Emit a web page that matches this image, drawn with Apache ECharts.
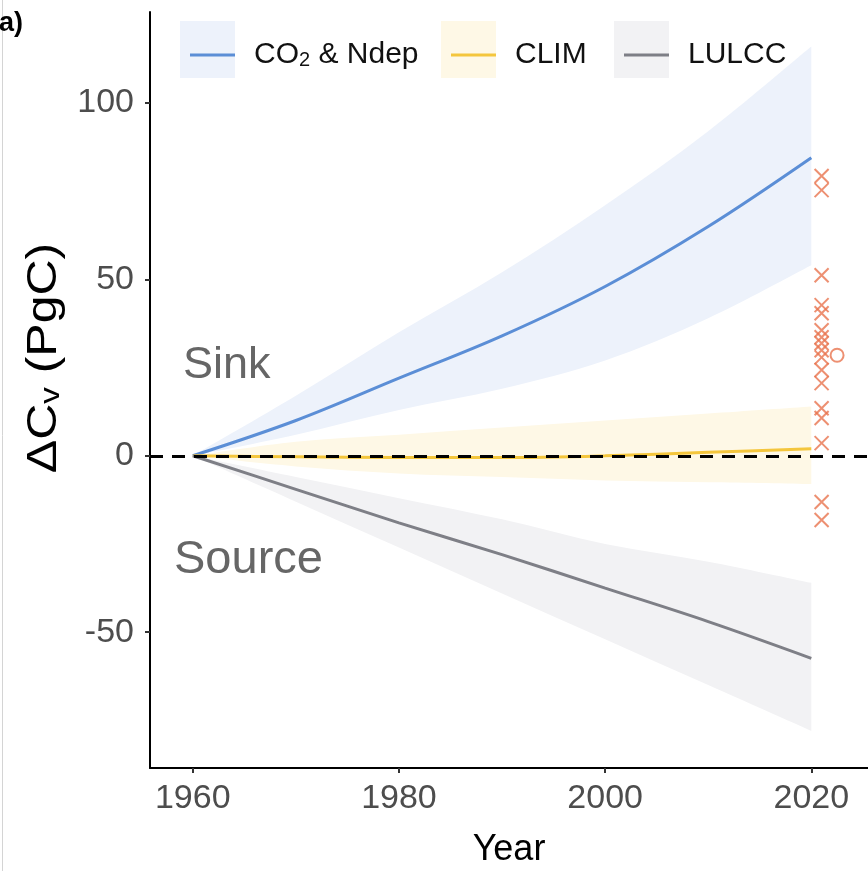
<!DOCTYPE html>
<html>
<head>
<meta charset="utf-8">
<script src="https://cdn.jsdelivr.net/npm/echarts@6/dist/echarts.min.js"></script>
<style>
  html, body { margin: 0; padding: 0; background: #ffffff; }
  #chart { width: 868px; height: 871px; }
</style>
</head>
<body>
<div id="chart"></div>
<script>
// Vegetation carbon change since 1960 by driver (PgC)
const years = [1960, 1970, 1980, 1990, 2000, 2010, 2020];

const co2Mean  = [0, 10, 22, 34, 48, 65, 84.5];
const co2Upper = [0, 17, 35, 52, 71, 92, 116];
const co2Lower = [0, 6, 13, 19, 27, 39, 54];

const climMean  = [0, -0.3, -0.5, -0.5, 0, 1, 2];
const climUpper = [0, 4, 6, 8, 10, 12, 14];
const climLower = [0, -3, -5, -6, -7, -7.5, -8];

const lulccMean  = [0, -9.5, -19, -28, -37.5, -47, -57.4];
const lulccUpper = [0, -6, -12, -18, -25, -30, -36];
const lulccLower = [0, -13, -26, -39, -52, -65, -78];

// independent estimates plotted just after the model period
const obsYear = 2021;
const obsValues = [79.3, 75.3, 51.2, 42.7, 40.4, 35.6, 33.6, 31.9, 29.9, 27.9, 24.3, 20.6, 13.5, 10.7, 3.6, -13.1, -18.2];
const refPoint = [2022.5, 28.5];

const xTicks = [1960, 1980, 2000, 2020];
const yTicks = [-50, 0, 50, 100];

const FONT = "'Liberation Sans', Arial, sans-serif";

const colors = {
  co2: '#5b8ed6', co2Band: '#edf2fb',
  clim: '#f4c63d', climBand: '#fef8e6',
  lulcc: '#7e7f86', lulccBand: '#f2f2f4',
  obs: '#e8744f'
};

const pairs = (ys) => years.map((y, i) => [y, ys[i]]);

// Smooth path (Catmull-Rom converted to cubic Bezier) through screen points
function splineCmds(pts) {
  let d = '';
  for (let i = 0; i < pts.length - 1; i++) {
    const p0 = pts[Math.max(i - 1, 0)];
    const p1 = pts[i];
    const p2 = pts[i + 1];
    const p3 = pts[Math.min(i + 2, pts.length - 1)];
    const c1 = [p1[0] + (p2[0] - p0[0]) / 6, p1[1] + (p2[1] - p0[1]) / 6];
    const c2 = [p2[0] - (p3[0] - p1[0]) / 6, p2[1] - (p3[1] - p1[1]) / 6];
    d += ' C' + c1[0] + ',' + c1[1] + ' ' + c2[0] + ',' + c2[1] + ' ' + p2[0] + ',' + p2[1];
  }
  return d;
}

function band(name, lower, upper, fill) {
  return {
    type: 'custom', name: name, silent: true, z: 1, clip: true,
    data: years.map((y, i) => [y, lower[i], upper[i]]),
    encode: { x: 0, y: [1, 2] },
    renderItem: function (params, api) {
      if (params.dataIndex !== 0) return null;
      const up = years.map((y, i) => api.coord([y, upper[i]]));
      const lo = years.map((y, i) => api.coord([y, lower[i]])).reverse();
      const d = 'M' + up[0][0] + ',' + up[0][1] + splineCmds(up) +
        ' L' + lo[0][0] + ',' + lo[0][1] + splineCmds(lo) + ' Z';
      return { type: 'path', shape: { pathData: d }, style: { fill: fill, stroke: null } };
    }
  };
}

function meanLine(name, values, color) {
  return {
    type: 'line', name: name, data: pairs(values), smooth: 0.35, symbol: 'none',
    itemStyle: { color: color }, lineStyle: { color: color, width: 3 }, z: 3
  };
}

const chart = echarts.init(document.getElementById('chart'), null, { renderer: 'canvas' });

const legendBase = (name, left) => ({
  data: [name], left: left, top: 35, orient: 'horizontal',
  icon: 'rect', itemWidth: 45, itemHeight: 3,
  selectedMode: false,
  formatter: (n) => n === 'CO2 & Ndep' ? '{a|CO}{s|2}{a| & Ndep}' : '{a|' + n + '}',
  textStyle: {
    padding: [0, 0, 0, 14],
    rich: {
      a: { fontFamily: FONT, fontSize: 30, color: '#111', lineHeight: 30 },
      s: { fontFamily: FONT, fontSize: 20, color: '#111', lineHeight: 18, verticalAlign: 'bottom' }
    }
  }
});

const option = {
  backgroundColor: '#ffffff',
  animation: false,
  grid: { left: 150, right: 0, top: 12, bottom: 103, containLabel: false, outerBoundsMode: 'none' },
  xAxis: {
    type: 'value', min: 1955.85, max: 2025.5,
    axisLine: { show: true, onZero: false, lineStyle: { color: '#000', width: 2 } },
    axisTick: { show: true, length: 5, customValues: xTicks, lineStyle: { color: '#333', width: 2 } },
    axisLabel: { customValues: xTicks, formatter: (v) => String(v), color: '#4d4d4d', fontSize: 34, fontFamily: FONT, margin: 14 },
    splitLine: { show: false },
    name: 'Year', nameLocation: 'middle', nameGap: 64,
    nameTextStyle: { color: '#000', fontSize: 36, fontFamily: FONT }
  },
  yAxis: {
    type: 'value', min: -88.5, max: 125.8,
    axisLine: { show: true, onZero: false, lineStyle: { color: '#000', width: 2 } },
    axisTick: { show: true, length: 5, customValues: yTicks, lineStyle: { color: '#333', width: 2 } },
    axisLabel: { customValues: yTicks, formatter: (v) => String(v), color: '#4d4d4d', fontSize: 34, fontFamily: FONT, margin: 16 },
    splitLine: { show: false }
  },
  legend: [
    legendBase('CO2 & Ndep', 185),
    legendBase('CLIM', 446),
    legendBase('LULCC', 619)
  ],
  graphic: [
    { type: 'line', shape: { x1: 2.5, y1: 0, x2: 2.5, y2: 871 }, style: { stroke: '#d4d4d4', lineWidth: 1 }, z: 0 },
    { type: 'rect', shape: { x: 180, y: 21, width: 55, height: 57 }, style: { fill: colors.co2Band }, z: 0 },
    { type: 'rect', shape: { x: 441, y: 21, width: 55, height: 57 }, style: { fill: colors.climBand }, z: 0 },
    { type: 'rect', shape: { x: 614, y: 21, width: 55, height: 57 }, style: { fill: colors.lulccBand }, z: 0 },
    { type: 'text', x: -1, y: 10, style: { text: 'a)', font: 'bold 27px ' + FONT, fill: '#000' }, z: 5 },
    { type: 'text', x: 183, y: 366, style: { text: 'Sink', font: '45px ' + FONT, fill: '#666', verticalAlign: 'middle' }, z: 5 },
    { type: 'text', x: 174, y: 560, style: { text: 'Source', font: '47px ' + FONT, fill: '#666', verticalAlign: 'middle' }, z: 5 },
    {
      type: 'text', x: 44, y: 358, rotation: Math.PI / 2, scaleY: 0.86, z: 5,
      style: {
        text: '{a|ΔC}{s|v}{a| (PgC)}', align: 'center', verticalAlign: 'middle',
        rich: {
          a: { font: '50px ' + FONT, fill: '#000', lineHeight: 50 },
          s: { font: '33px ' + FONT, fill: '#000', lineHeight: 30, verticalAlign: 'bottom' }
        }
      }
    }
  ],
  series: [
    band('co2-band', co2Lower, co2Upper, colors.co2Band),
    band('clim-band', climLower, climUpper, colors.climBand),
    band('lulcc-band', lulccLower, lulccUpper, colors.lulccBand),
    meanLine('CO2 & Ndep', co2Mean, colors.co2),
    meanLine('CLIM', climMean, colors.clim),
    meanLine('LULCC', lulccMean, colors.lulcc),
    {
      type: 'line', name: 'zero', data: [], symbol: 'none', z: 6,
      markLine: {
        silent: true, symbol: ['none', 'none'], label: { show: false },
        lineStyle: { color: '#000', width: 3, type: [13, 9] },
        data: [{ yAxis: 0 }]
      }
    },
    {
      type: 'scatter', name: 'estimates', z: 5,
      data: obsValues.map(v => [obsYear, v]),
      symbol: 'path://M0,0L10,10M10,0L0,10', symbolSize: 14,
      itemStyle: { color: 'rgba(0,0,0,0)', borderColor: colors.obs, borderWidth: 2 }
    },
    {
      type: 'scatter', name: 'reference', z: 5,
      data: [refPoint], symbol: 'circle', symbolSize: 13,
      itemStyle: { color: 'rgba(0,0,0,0)', borderColor: colors.obs, borderWidth: 2 }
    }
  ]
};

chart.setOption(option);
</script>
</body>
</html>
